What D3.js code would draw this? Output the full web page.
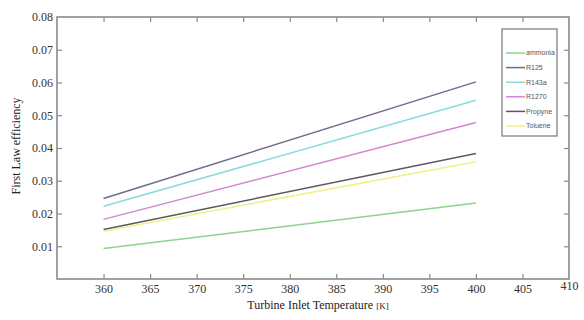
<!DOCTYPE html>
<html><head><meta charset="utf-8">
<script src="https://cdn.jsdelivr.net/npm/d3@7"></script>
<style>body{margin:0;background:#fff}svg{display:block}</style>
</head><body>
<svg id="c" width="584" height="320"></svg>
<script>
const temps = [360, 400];
const seriesNames = ["ammonia", "R125", "R143a", "R1270", "Propyne", "Toluene"];
const ammonia = [0.0093, 0.0232];
const r125 = [0.0246, 0.0602];
const r143a = [0.0222, 0.0546];
const r1270 = [0.0182, 0.0478];
const propyne = [0.0151, 0.0383];
const toluene = [0.0146, 0.0358];
const seriesValues = [ammonia, r125, r143a, r1270, propyne, toluene];
const colors = ["#8ed38e", "#6f6b8c", "#86dcdc", "#d287d2", "#5a5a5a", "#f2f08a"];
const xTicks = [360, 365, 370, 375, 380, 385, 390, 395, 400, 405, 410];
const yTicks = [0.01, 0.02, 0.03, 0.04, 0.05, 0.06, 0.07, 0.08];

const svg = d3.select("#c");
const L = 57, R = 569, T = 17, B = 279;
const x = d3.scaleLinear().domain([355, 410]).range([L, R]);
const y = d3.scaleLinear().domain([0, 0.08]).range([B, T]);
const axisCol = "#8a8a8a";
const serif = "'Liberation Serif', 'Times New Roman', serif";

svg.append("rect").attr("x", L).attr("y", T).attr("width", R - L).attr("height", B - T)
  .attr("fill", "none").attr("stroke", axisCol).attr("stroke-width", 1.6);

const fmtY = d3.format(".2f");
const gb = svg.append("g").attr("transform", `translate(0,${B})`)
  .call(d3.axisBottom(x).tickValues(xTicks).tickSizeInner(-5).tickSizeOuter(0).tickPadding(5).tickFormat(d3.format("d")));
const gt = svg.append("g").attr("transform", `translate(0,${T})`)
  .call(d3.axisTop(x).tickValues(xTicks.slice(0, -1)).tickSizeInner(-5).tickSizeOuter(0).tickFormat(""));
const gl = svg.append("g").attr("transform", `translate(${L},0)`)
  .call(d3.axisLeft(y).tickValues(yTicks).tickSizeInner(-5).tickSizeOuter(0).tickPadding(4).tickFormat(fmtY));
const gr = svg.append("g").attr("transform", `translate(${R},0)`)
  .call(d3.axisRight(y).tickValues(yTicks.slice(0, -1)).tickSizeInner(-5).tickSizeOuter(0).tickFormat(""));

[gb, gt, gl, gr].forEach(g => {
  g.attr("font-family", serif).attr("font-size", 12);
  g.select(".domain").remove();
  g.selectAll(".tick line").attr("stroke", axisCol).attr("stroke-width", 1.2);
  g.selectAll(".tick text").attr("fill", "#333");
});
gb.selectAll(".tick text").filter(d => d === 410).attr("y", 2);
gb.selectAll(".tick line").filter(d => d === 410).remove();
gl.selectAll(".tick line").filter(d => d === 0.08).remove();

const line = d3.line().x((d, i) => x(temps[i])).y(d => y(d));
seriesValues.forEach((vals, i) => {
  svg.append("path").datum(vals).attr("d", line)
    .attr("fill", "none").attr("stroke", colors[i]).attr("stroke-width", 1.5);
});

svg.append("text").attr("transform", `translate(20,${(T + B) / 2 - 2}) rotate(-90)`)
  .attr("text-anchor", "middle").attr("fill", "#222")
  .attr("font-family", serif).attr("font-size", 12)
  .text("First Law efficiency");
const xt = svg.append("text").attr("x", 318).attr("y", 309).attr("text-anchor", "middle").attr("fill", "#222")
  .attr("font-family", serif).attr("font-size", 12);
xt.append("tspan").text("Turbine Inlet Temperature ");
xt.append("tspan").attr("font-size", 9).text("[K]");

const lg = svg.append("g");
lg.append("rect").attr("x", 502).attr("y", 29).attr("width", 55).attr("height", 107)
  .attr("fill", "#fff").attr("stroke", "#777").attr("stroke-width", 1.2);
seriesNames.forEach((n, i) => {
  const yy = 53 + i * 14.6;
  lg.append("line").attr("x1", 506).attr("x2", 525).attr("y1", yy).attr("y2", yy)
    .attr("stroke", colors[i]).attr("stroke-width", 1.5);
  lg.append("text").attr("x", 526).attr("y", yy).attr("dy", "0.35em").attr("fill", "#555")
    .attr("font-family", "'Liberation Sans', Arial, sans-serif").attr("font-size", 7).text(n);
});
</script>
</body></html>
